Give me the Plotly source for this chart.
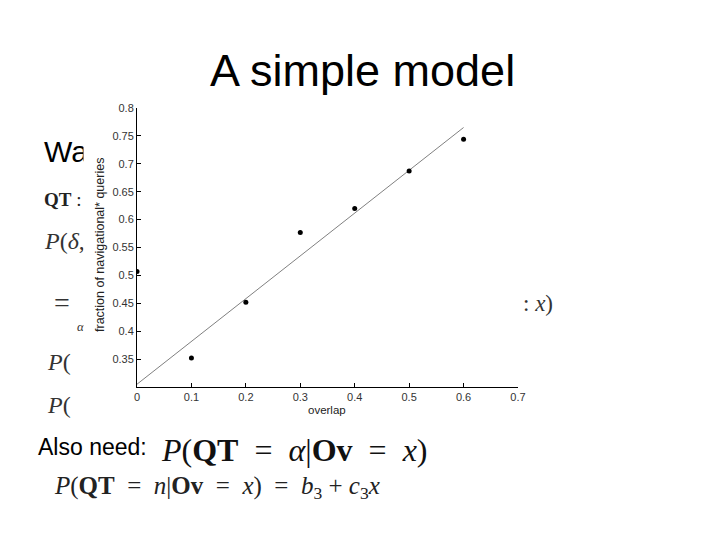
import plotly.graph_objects as go

# ---- data ----
overlap = [0.0, 0.1, 0.2, 0.3, 0.4, 0.5, 0.6]
fraction_nav = [0.507, 0.352, 0.452, 0.577, 0.620, 0.687, 0.744]
fit_x = [0.0, 0.6]
fit_y = [0.305, 0.765]
x_ticks = [0, 0.1, 0.2, 0.3, 0.4, 0.5, 0.6, 0.7]
x_tick_labels = ["0", "0.1", "0.2", "0.3", "0.4", "0.5", "0.6", "0.7"]
y_ticks = [0.35, 0.4, 0.45, 0.5, 0.55, 0.6, 0.65, 0.7, 0.75, 0.8]
y_tick_labels = ["0.35", "0.4", "0.45", "0.5", "0.55", "0.6", "0.65", "0.7", "0.75", "0.8"]

OFF = 8  # page body margin
W, H = 704, 524
L, R, T, B = 137 - OFF, 518 - OFF, 108 - OFF, 387 - OFF  # plot area in figure pixels


def px(xp):
    return (xp - OFF - L) / (R - L)


def py(yp):
    return (B - (yp - OFF)) / (B - T)


fig = go.Figure()
fig.add_trace(go.Scatter(x=fit_x, y=fit_y, mode="lines",
                         line=dict(color="#808080", width=1), hoverinfo="skip"))
fig.add_trace(go.Scatter(x=overlap, y=fraction_nav, mode="markers",
                         marker=dict(color="black", size=5)))

SANS = "Liberation Sans, Arial, sans-serif"
SERIF = "Liberation Serif, Times New Roman, serif"
ann = []


def text(x, y, s, size, family=SANS, color="black", xanchor="left", angle=0):
    ann.append(dict(x=px(x), y=py(y), xref="paper", yref="paper", text=s,
                    showarrow=False, xanchor=xanchor, yanchor="middle",
                    textangle=angle, font=dict(family=family, size=size, color=color)))


S = "&nbsp;"
# slide texts
text(362, 70, "A simple model", 45, xanchor="center")
text(42, 151, "Wa", 30)
text(42, 199, "<b>QT</b> :", 19, SERIF, "#222")
text(42, 241, "<i>P</i>(<i>δ</i>,", 24, SERIF, "#333")
text(52, 302, "=", 28, SERIF, "#333")
text(75, 326, "<i>α</i>", 13, SERIF, "#333")
text(45, 362, "<i>P</i>(", 24, SERIF, "#333")
text(45, 405, "<i>P</i>(", 24, SERIF, "#333")

# white strip: the chart picture's white margin hides slide text to its left edge
ann.append(dict(x=px(83), y=py(128), xref="paper", yref="paper", text=" ",
                showarrow=False, xanchor="left", yanchor="top",
                width=20, height=290, bgcolor="white", borderpad=0,
                font=dict(size=10)))

text(521, 303, ":" + S + "<i>x</i>)", 23, SERIF, "#333")
text(36, 447, "Also need:", 23)
text(159, 450, "<i>P</i>(<b>QT</b>" + S * 2 + "=" + S * 2 + "<i>α</i>|<b>Ov</b>" + S * 2 + "=" + S * 2 + "<i>x</i>)",
     32, SERIF, "#111")
S2 = S * 2
text(52, 487, "<i>P</i>(<b>QT</b>" + S2 + "=" + S2 + "<i>n</i>|<b>Ov</b>" + S2 + "=" + S2 + "<i>x</i>)" + S2 + "=" + S2
     + "<i>b</i><sub>3</sub>" + S + "+" + S + "<i>c</i><sub>3</sub><i>x</i>",
     25, SERIF, "#222")

# chart axis titles
text(100, 245, "fraction of navigational* queries", 12.5, SANS, "#222", xanchor="center", angle=-90)
text(327, 410, "overlap", 11.5, SANS, "#222", xanchor="center")

fig.update_layout(
    width=W, height=H,
    margin=dict(l=L, r=W - R, t=T, b=H - B, pad=0),
    paper_bgcolor="white", plot_bgcolor="white",
    showlegend=False,
    annotations=ann,
    xaxis=dict(range=[0, 0.7], tickvals=x_ticks, ticktext=x_tick_labels,
               showgrid=False, zeroline=False, showline=True, linecolor="black",
               linewidth=1, ticks="inside", ticklen=4, tickcolor="black",
               tickfont=dict(family=SANS, size=11, color="#333")),
    yaxis=dict(range=[0.3, 0.8], tickvals=y_ticks, ticktext=y_tick_labels,
               showgrid=False, zeroline=False, showline=True, linecolor="black",
               linewidth=1, ticks="inside", ticklen=4, tickcolor="black",
               tickfont=dict(family=SANS, size=11, color="#333")),
)

fig.write_html("out.html")
